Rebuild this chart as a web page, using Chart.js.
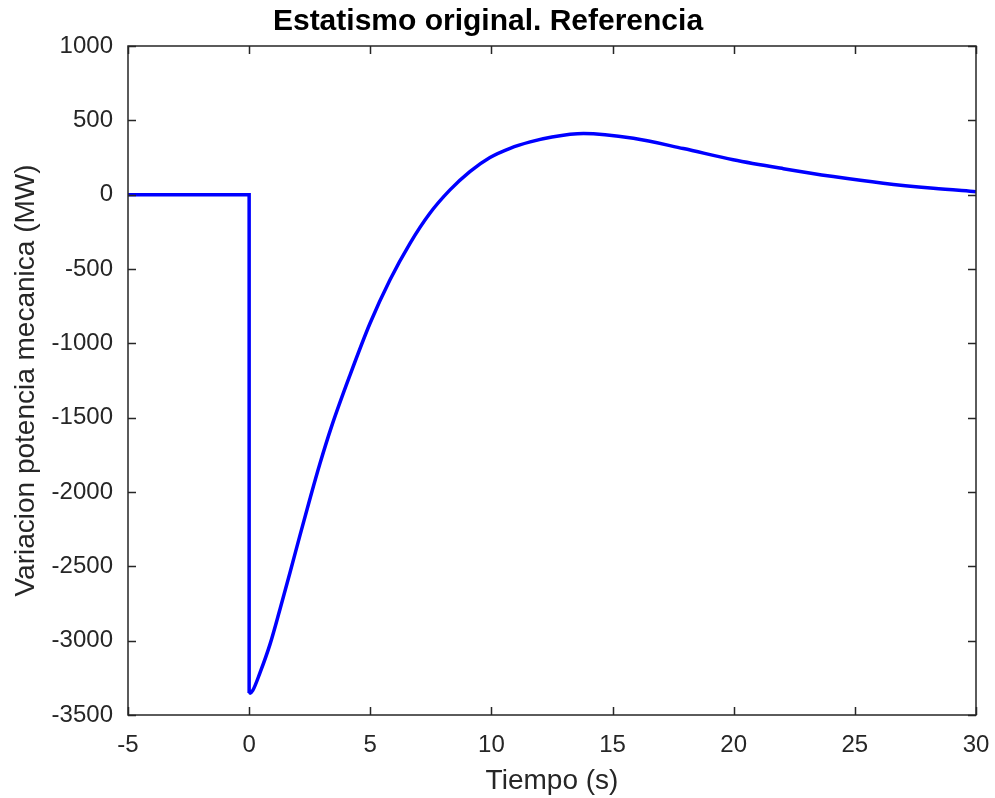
<!DOCTYPE html>
<html>
<head>
<meta charset="utf-8">
<script src="https://cdn.jsdelivr.net/npm/chart.js@4/dist/chart.umd.min.js"></script>
<style>
  html, body { margin: 0; padding: 0; background: #fff; }
  #chart { display: block; }
</style>
</head>
<body>
<canvas id="chart" width="995" height="798"></canvas>
<script>
// Estatismo original - respuesta de potencia mecanica
const tiempo = [-5, 0, 0, 0.04, 0.15, 0.45, 0.86, 1.27, 1.69, 2.1, 2.51, 2.92, 3.4, 4.16,
  4.99, 5.81, 6.64, 7.46, 8.29, 9.11, 9.94, 10.77, 11.6, 12.5, 13.8, 15.86, 17.92, 19.98,
  22.05, 24.11, 26.17, 28.24, 30];
const potencia = [0, 0, -3340, -3353, -3335, -3215, -3025, -2790, -2540, -2290, -2045,
  -1810, -1560, -1215, -865, -574, -327, -125, 32, 155, 250, 312, 355, 388, 411, 379,
  310, 235, 175, 122, 77, 43, 20];

const xTicks = [-5, 0, 5, 10, 15, 20, 25, 30];
const yTicks = [1000, 500, 0, -500, -1000, -1500, -2000, -2500, -3000, -3500];

const ejeColor = '#262626';
const fuente = '"Liberation Sans", Arial, Helvetica, sans-serif';

// caja y marcas hacia dentro, al estilo MATLAB
const cajaPlugin = {
  id: 'caja',
  afterDatasetsDraw(chart) {
    const { ctx, chartArea: a, scales } = chart;
    const len = 8;
    ctx.save();
    ctx.strokeStyle = ejeColor;
    ctx.lineWidth = 1.5;
    ctx.beginPath();
    xTicks.forEach(v => {
      const px = Math.round(scales.x.getPixelForValue(v)) + 0.5;
      ctx.moveTo(px, a.bottom); ctx.lineTo(px, a.bottom - len);
      ctx.moveTo(px, a.top); ctx.lineTo(px, a.top + len);
    });
    yTicks.forEach(v => {
      const py = Math.round(scales.y.getPixelForValue(v)) + 0.5;
      ctx.moveTo(a.left, py); ctx.lineTo(a.left + len, py);
      ctx.moveTo(a.right, py); ctx.lineTo(a.right - len, py);
    });
    ctx.stroke();
    ctx.strokeRect(a.left, a.top, a.right - a.left, a.bottom - a.top);
    ctx.restore();
  }
};

new Chart(document.getElementById('chart'), {
  type: 'line',
  data: {
    datasets: [{
      data: tiempo.map((t, i) => ({ x: t, y: potencia[i] })),
      borderColor: '#0000FF',
      borderWidth: 3.5,
      pointRadius: 0,
      fill: false,
      cubicInterpolationMode: 'monotone'
    }]
  },
  options: {
    responsive: false,
    devicePixelRatio: 1,
    animation: false,
    layout: { padding: { left: 0, right: 19, top: 0, bottom: 0 } },
    plugins: {
      legend: { display: false },
      tooltip: { enabled: false },
      title: {
        display: true,
        text: 'Estatismo original. Referencia',
        color: '#000',
        font: { family: fuente, size: 30, weight: 'bold' },
        padding: { top: 4, bottom: 6 }
      }
    },
    scales: {
      x: {
        type: 'linear',
        min: -5,
        max: 30,
        afterBuildTicks: s => { s.ticks = xTicks.map(v => ({ value: v })); },
        afterFit: s => { s.height = 83; s.paddingLeft = 0; s.paddingRight = 0; },
        grid: { display: false, drawTicks: false },
        border: { display: false },
        ticks: {
          color: ejeColor, padding: 16, font: { family: fuente, size: 24 },
          callback: v => String(v)
        },
        title: {
          display: true,
          text: 'Tiempo (s)',
          color: ejeColor,
          font: { family: fuente, size: 28 },
          padding: { top: 0, bottom: 0 }
        }
      },
      y: {
        min: -3500,
        max: 1000,
        afterBuildTicks: s => { s.ticks = yTicks.map(v => ({ value: v })); },
        afterFit: s => { s.width = 128; s.paddingTop = 0; s.paddingBottom = 0; },
        grid: { display: false, drawTicks: false },
        border: { display: false },
        ticks: {
          color: ejeColor, padding: 15, font: { family: fuente, size: 24 },
          callback: v => String(v)
        },
        title: {
          display: true,
          text: 'Variacion potencia mecanica (MW)',
          color: ejeColor,
          font: { family: fuente, size: 28 },
          padding: { top: 9, bottom: 0 }
        }
      }
    }
  },
  plugins: [cajaPlugin]
});
</script>
</body>
</html>
